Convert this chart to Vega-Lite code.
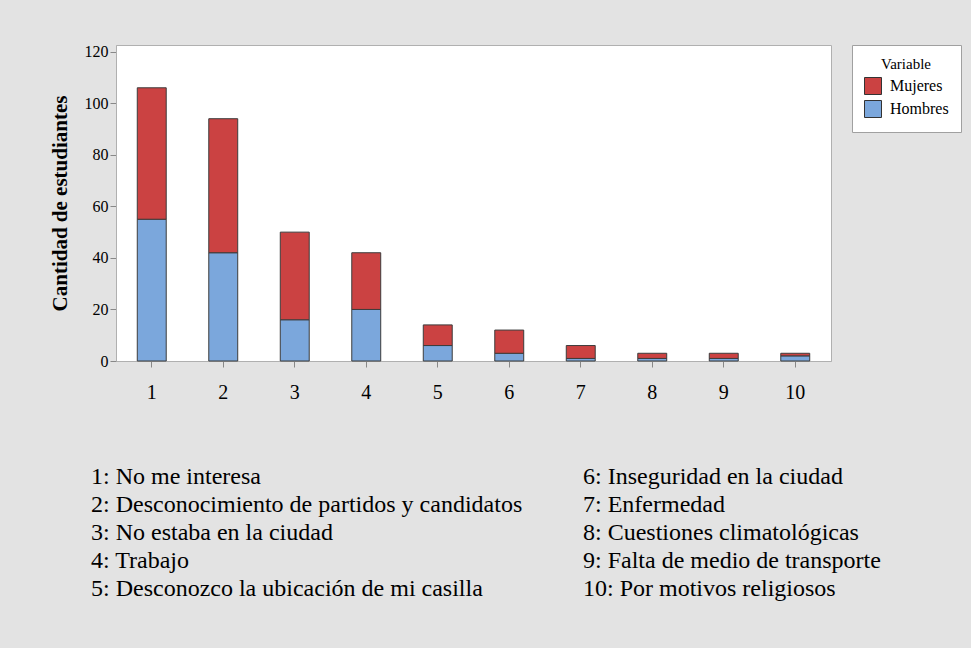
{
  "$schema": "https://vega.github.io/schema/vega-lite/v6.json",
  "background": "#e3e3e3",
  "padding": {"left": 48, "top": 43, "right": 12, "bottom": 48},
  "config": {"font": "Liberation Serif"},
  "datasets": {
    "bars": [
      {"Motivo": 1, "Variable": "Hombres", "Cantidad": 55},
      {"Motivo": 1, "Variable": "Mujeres", "Cantidad": 51},
      {"Motivo": 2, "Variable": "Hombres", "Cantidad": 42},
      {"Motivo": 2, "Variable": "Mujeres", "Cantidad": 52},
      {"Motivo": 3, "Variable": "Hombres", "Cantidad": 16},
      {"Motivo": 3, "Variable": "Mujeres", "Cantidad": 34},
      {"Motivo": 4, "Variable": "Hombres", "Cantidad": 20},
      {"Motivo": 4, "Variable": "Mujeres", "Cantidad": 22},
      {"Motivo": 5, "Variable": "Hombres", "Cantidad": 6},
      {"Motivo": 5, "Variable": "Mujeres", "Cantidad": 8},
      {"Motivo": 6, "Variable": "Hombres", "Cantidad": 3},
      {"Motivo": 6, "Variable": "Mujeres", "Cantidad": 9},
      {"Motivo": 7, "Variable": "Hombres", "Cantidad": 1},
      {"Motivo": 7, "Variable": "Mujeres", "Cantidad": 5},
      {"Motivo": 8, "Variable": "Hombres", "Cantidad": 1},
      {"Motivo": 8, "Variable": "Mujeres", "Cantidad": 2},
      {"Motivo": 9, "Variable": "Hombres", "Cantidad": 1},
      {"Motivo": 9, "Variable": "Mujeres", "Cantidad": 2},
      {"Motivo": 10, "Variable": "Hombres", "Cantidad": 2},
      {"Motivo": 10, "Variable": "Mujeres", "Cantidad": 1}
    ],
    "notes": [
      {"col": "A", "row": 1, "label": "1: No me interesa"},
      {"col": "A", "row": 2, "label": "2: Desconocimiento de partidos y candidatos"},
      {"col": "A", "row": 3, "label": "3: No estaba en la ciudad"},
      {"col": "A", "row": 4, "label": "4: Trabajo"},
      {"col": "A", "row": 5, "label": "5: Desconozco la ubicación de mi casilla"},
      {"col": "B", "row": 1, "label": "6: Inseguridad en la ciudad"},
      {"col": "B", "row": 2, "label": "7: Enfermedad"},
      {"col": "B", "row": 3, "label": "8: Cuestiones climatológicas"},
      {"col": "B", "row": 4, "label": "9: Falta de medio de transporte"},
      {"col": "B", "row": 5, "label": "10: Por motivos religiosos"}
    ]
  },
  "vconcat": [
    {
      "width": 715,
      "height": 316,
      "view": {"fill": "white", "stroke": "#b0b0b0"},
      "data": {"name": "bars"},
      "mark": {"type": "bar", "stroke": "#3c3c3c", "strokeWidth": 1},
      "encoding": {
        "x": {
          "field": "Motivo", "type": "ordinal",
          "scale": {"paddingInner": 0.595, "paddingOuter": 0.2975},
          "axis": {"title": null, "labelAngle": 0, "labelFontSize": 20, "labelPadding": 15, "labelColor": "#000",
                   "tickColor": "#888", "tickSize": 6, "domainColor": "#b0b0b0"}
        },
        "y": {
          "field": "Cantidad", "type": "quantitative", "stack": "zero",
          "scale": {"domain": [0, 122.6], "nice": false},
          "axis": {"values": [0, 20, 40, 60, 80, 100, 120], "grid": false, "title": "Cantidad de estudiantes",
                   "titleFontSize": 21, "titleFontWeight": "bold", "titleColor": "#000", "titlePadding": 14,
                   "labelFontSize": 16, "labelColor": "#000", "tickColor": "#888", "tickSize": 6,
                   "domainColor": "#b0b0b0"}
        },
        "color": {
          "field": "Variable", "type": "nominal",
          "scale": {"domain": ["Mujeres", "Hombres"], "range": ["#cb4242", "#7ba7dc"]},
          "legend": {"title": "Variable", "titleFontWeight": "normal", "titleFontSize": 15, "titleColor": "#000",
                     "titleAnchor": "middle", "titlePadding": 5, "labelFontSize": 16, "labelColor": "#000",
                     "symbolType": "square", "symbolSize": 289, "symbolStrokeColor": "#333", "symbolStrokeWidth": 1,
                     "rowPadding": 1, "labelOffset": 8,
                     "fillColor": "white", "strokeColor": "#a0a0a0", "padding": 12, "offset": 21}
        },
        "order": {"field": "Variable", "sort": "ascending"}
      }
    },
    {
      "width": 492,
      "height": 112,
      "view": {"stroke": null},
      "data": {"name": "notes"},
      "mark": {"type": "text", "align": "left", "baseline": "middle", "fontSize": 24, "dx": -25, "color": "#000"},
      "encoding": {
        "x": {"field": "col", "type": "nominal", "scale": {"type": "point", "padding": 0}, "axis": null},
        "y": {"field": "row", "type": "ordinal", "scale": {"type": "point", "padding": 0}, "axis": null},
        "text": {"field": "label"}
      }
    }
  ],
  "spacing": 62,
  "resolve": {"legend": {"color": "independent"}}
}
